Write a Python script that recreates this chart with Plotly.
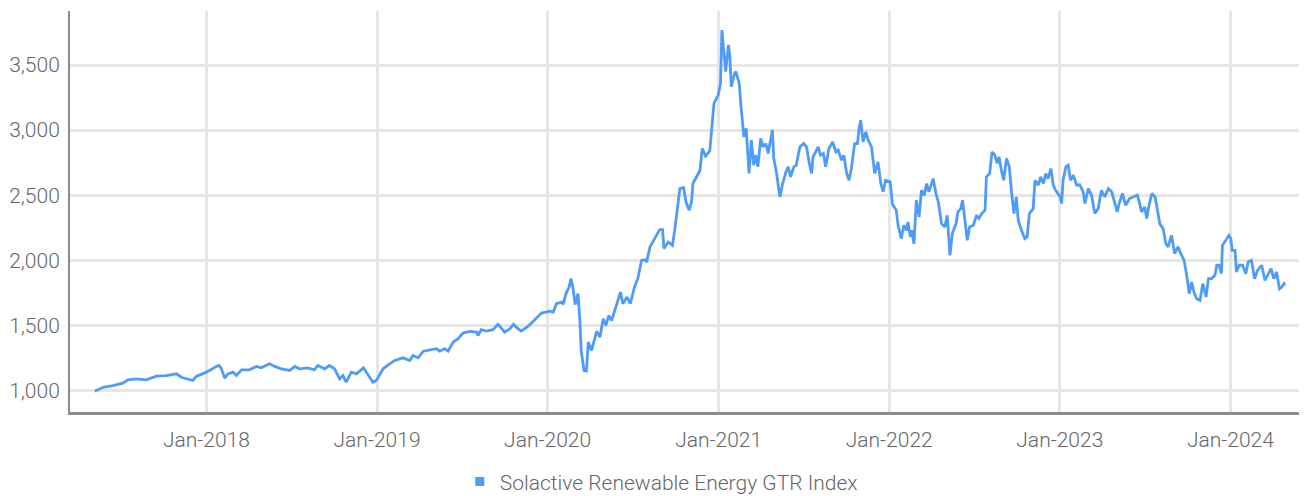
import plotly.graph_objects as go

series_name = "Solactive Renewable Energy GTR Index"

dates = [
    "2017-05-07", "2017-05-25", "2017-06-15", "2017-07-06", "2017-07-17", "2017-08-04", "2017-08-25",
    "2017-09-16", "2017-10-07", "2017-10-29", "2017-11-08", "2017-11-19", "2017-12-03", "2017-12-10",
    "2018-01-01", "2018-01-22", "2018-01-28", "2018-02-02", "2018-02-09", "2018-02-16", "2018-02-27",
    "2018-03-06", "2018-03-17", "2018-04-03", "2018-04-18", "2018-04-28", "2018-05-16", "2018-05-27",
    "2018-06-10", "2018-06-28", "2018-07-09", "2018-07-19", "2018-08-06", "2018-08-20", "2018-08-27",
    "2018-09-11", "2018-09-21", "2018-10-02", "2018-10-13", "2018-10-20", "2018-10-27", "2018-11-07",
    "2018-11-18", "2018-12-03", "2018-12-12", "2018-12-23", "2018-12-31",
    "2019-01-14", "2019-01-28", "2019-02-08", "2019-02-26", "2019-03-12", "2019-03-19", "2019-03-30",
    "2019-04-10", "2019-04-28", "2019-05-08", "2019-05-15", "2019-05-26", "2019-06-02", "2019-06-13",
    "2019-06-23", "2019-07-04", "2019-07-18", "2019-08-02", "2019-08-05", "2019-08-12", "2019-08-23",
    "2019-09-06", "2019-09-17", "2019-10-01", "2019-10-12", "2019-10-20", "2019-10-30", "2019-11-06",
    "2019-11-20", "2019-12-04", "2019-12-19",
    "2020-01-06", "2020-01-13", "2020-01-20", "2020-01-31", "2020-02-03", "2020-02-10", "2020-02-16",
    "2020-02-20", "2020-02-24", "2020-02-29", "2020-03-06", "2020-03-10", "2020-03-13", "2020-03-19",
    "2020-03-24", "2020-03-28", "2020-04-04", "2020-04-15", "2020-04-22", "2020-04-29", "2020-05-05",
    "2020-05-11", "2020-05-17", "2020-05-24", "2020-05-31", "2020-06-05", "2020-06-10", "2020-06-19",
    "2020-06-26", "2020-07-05", "2020-07-12", "2020-07-20", "2020-07-27", "2020-07-31", "2020-08-07",
    "2020-08-17", "2020-08-28", "2020-09-03", "2020-09-06", "2020-09-15", "2020-09-24", "2020-09-29",
    "2020-10-03", "2020-10-10", "2020-10-18", "2020-10-23", "2020-10-30", "2020-11-04", "2020-11-07",
    "2020-11-15", "2020-11-22", "2020-11-27", "2020-12-04", "2020-12-13", "2020-12-17", "2020-12-22",
    "2020-12-31",
    "2021-01-05", "2021-01-08", "2021-01-12", "2021-01-16", "2021-01-22", "2021-01-25", "2021-01-28",
    "2021-02-04", "2021-02-07", "2021-02-14", "2021-02-18", "2021-02-24", "2021-03-01", "2021-03-07",
    "2021-03-12", "2021-03-17", "2021-03-21", "2021-03-26", "2021-04-01", "2021-04-06", "2021-04-12",
    "2021-04-17", "2021-04-22", "2021-04-26", "2021-04-29", "2021-05-05", "2021-05-12", "2021-05-18",
    "2021-05-25", "2021-05-30", "2021-06-04", "2021-06-11", "2021-06-16", "2021-06-24", "2021-07-02",
    "2021-07-08", "2021-07-14", "2021-07-19", "2021-07-22", "2021-07-28", "2021-08-02", "2021-08-07",
    "2021-08-13", "2021-08-18", "2021-08-25", "2021-09-02", "2021-09-09", "2021-09-14", "2021-09-21",
    "2021-09-26", "2021-10-02", "2021-10-07", "2021-10-12", "2021-10-19", "2021-10-25", "2021-10-29",
    "2021-11-01", "2021-11-06", "2021-11-12", "2021-11-17", "2021-11-24", "2021-12-01", "2021-12-08",
    "2021-12-14", "2021-12-19", "2021-12-24",
    "2022-01-03", "2022-01-08", "2022-01-16", "2022-01-20", "2022-01-27", "2022-02-01", "2022-02-07",
    "2022-02-10", "2022-02-15", "2022-02-18", "2022-02-23", "2022-02-28", "2022-03-06", "2022-03-11",
    "2022-03-17", "2022-03-22", "2022-03-27", "2022-04-05", "2022-04-11", "2022-04-16", "2022-04-23",
    "2022-04-30", "2022-05-05", "2022-05-11", "2022-05-16", "2022-05-24", "2022-05-28", "2022-06-03",
    "2022-06-07", "2022-06-12", "2022-06-17", "2022-06-22", "2022-06-30", "2022-07-07", "2022-07-12",
    "2022-07-18", "2022-07-25", "2022-07-28", "2022-08-04", "2022-08-09", "2022-08-15", "2022-08-20",
    "2022-08-24", "2022-08-29", "2022-09-03", "2022-09-09", "2022-09-15", "2022-09-20", "2022-09-25",
    "2022-09-30", "2022-10-04", "2022-10-11", "2022-10-18", "2022-10-23", "2022-10-28", "2022-11-05",
    "2022-11-09", "2022-11-16", "2022-11-21", "2022-11-27", "2022-12-02", "2022-12-07", "2022-12-13",
    "2022-12-18", "2022-12-23",
    "2023-01-02", "2023-01-05", "2023-01-08", "2023-01-14", "2023-01-19", "2023-01-24", "2023-01-30",
    "2023-02-06", "2023-02-13", "2023-02-20", "2023-02-24", "2023-03-03", "2023-03-10", "2023-03-13",
    "2023-03-17", "2023-03-24", "2023-03-31", "2023-04-07", "2023-04-15", "2023-04-22", "2023-04-29",
    "2023-05-04", "2023-05-08", "2023-05-15", "2023-05-22", "2023-05-30", "2023-06-07", "2023-06-16",
    "2023-06-21", "2023-06-25", "2023-07-02", "2023-07-06", "2023-07-11", "2023-07-17", "2023-07-24",
    "2023-07-29", "2023-08-03", "2023-08-10", "2023-08-16", "2023-08-21", "2023-08-28", "2023-09-04",
    "2023-09-11", "2023-09-17", "2023-09-24", "2023-09-29", "2023-10-05", "2023-10-10", "2023-10-16",
    "2023-10-21", "2023-10-28", "2023-11-03", "2023-11-10", "2023-11-15", "2023-11-22", "2023-11-29",
    "2023-12-03", "2023-12-08", "2023-12-13", "2023-12-15", "2023-12-22", "2023-12-29",
    "2024-01-02", "2024-01-05", "2024-01-11", "2024-01-14", "2024-01-20", "2024-01-27", "2024-02-03",
    "2024-02-08", "2024-02-15", "2024-02-22", "2024-02-28", "2024-03-08", "2024-03-15", "2024-03-22",
    "2024-03-28", "2024-04-03", "2024-04-09", "2024-04-15", "2024-04-20", "2024-04-25", "2024-04-27",
]

values = [
    995, 1025, 1038, 1056, 1082, 1090, 1082,
    1110, 1115, 1128, 1102, 1090, 1077, 1108,
    1141, 1185, 1192, 1167, 1095, 1128, 1141,
    1115, 1159, 1159, 1185, 1174, 1205, 1185,
    1167, 1154, 1185, 1167, 1174, 1159, 1192,
    1167, 1192, 1167, 1090, 1115, 1064, 1141,
    1128, 1174, 1128, 1064, 1080,
    1167, 1205, 1231, 1251, 1231, 1269, 1251,
    1302, 1313, 1321, 1302, 1321, 1302, 1372,
    1397, 1441, 1454, 1449, 1423, 1467, 1456,
    1467, 1508, 1449, 1474, 1508, 1474, 1456,
    1492, 1538, 1595,
    1610, 1603, 1667, 1679, 1662, 1750, 1795,
    1859, 1795, 1660, 1744, 1540, 1300, 1154,
    1150, 1372, 1308, 1455, 1410, 1551, 1500,
    1577, 1538, 1615, 1692, 1756, 1667, 1718,
    1667, 1795, 1859, 2000, 2005, 1987, 2103,
    2167, 2236, 2236, 2090, 2141, 2115, 2231,
    2359, 2551, 2559, 2449, 2385, 2449, 2590,
    2641, 2690, 2859, 2800, 2840, 3000, 3205,
    3269,
    3359, 3769, 3615, 3449, 3654, 3564, 3333,
    3436, 3449, 3359, 3179, 2949, 3013, 2667,
    2923, 2731, 2808, 2718, 2936, 2872, 2897,
    2821, 2923, 3000, 2782, 2667, 2487, 2590,
    2679, 2718, 2641, 2718, 2731, 2872, 2897,
    2872, 2744, 2667, 2795, 2833, 2872, 2808,
    2821, 2718, 2859, 2910, 2833, 2846, 2769,
    2808, 2667, 2615, 2705, 2897, 2897, 3026,
    3077, 2910, 2987, 2923, 2872, 2667, 2756,
    2590, 2526, 2615,
    2603, 2430, 2385, 2269, 2167, 2269, 2231,
    2295, 2180, 2231, 2128, 2462, 2333, 2538,
    2500, 2590, 2526, 2628, 2513, 2449, 2282,
    2256, 2346, 2038, 2205, 2282, 2372, 2397,
    2462, 2308, 2154, 2256, 2269, 2346, 2321,
    2359, 2385, 2641, 2667, 2833, 2808, 2744,
    2795, 2692, 2615, 2782, 2718, 2513, 2359,
    2487, 2308, 2231, 2167, 2180, 2359, 2397,
    2615, 2577, 2641, 2590, 2667, 2628, 2705,
    2577, 2538,
    2487, 2436, 2615, 2718, 2731, 2615, 2654,
    2577, 2580, 2526, 2436, 2551, 2500, 2436,
    2359, 2397, 2538, 2487, 2551, 2526, 2423,
    2372, 2436, 2513, 2423, 2474, 2487, 2500,
    2436, 2372, 2410, 2321, 2423, 2513, 2487,
    2385, 2282, 2244, 2128, 2103, 2192, 2051,
    2103, 2051, 2000, 1897, 1744, 1833, 1744,
    1705, 1692, 1821, 1718, 1859, 1859, 1885,
    1962, 1962, 1897, 2115, 2154, 2192,
    2167, 2077, 2077, 1910, 1962, 1962, 1897,
    1987, 2000, 1859, 1923, 1962, 1846, 1897,
    1936, 1859, 1910, 1782, 1795, 1821, 1808,
]

y_ticks = [1000, 1500, 2000, 2500, 3000, 3500]

line_color = "#4f9cf8"
font_family = "Roboto, 'Open Sans', sans-serif"
text_color = "#666666"

fig = go.Figure()
fig.add_trace(go.Scatter(
    x=dates, y=values, mode="lines", name=series_name,
    line=dict(color=line_color, width=2.8), showlegend=False,
))
fig.add_trace(go.Scatter(
    x=[None], y=[None], mode="markers", name=series_name,
    marker=dict(symbol="square", size=9, color=line_color),
    showlegend=True,
))

fig.update_layout(
    width=1299, height=488,
    margin=dict(l=62, r=0, t=3, b=84, autoexpand=False),
    paper_bgcolor="white", plot_bgcolor="white",
    font=dict(family=font_family, size=21, color=text_color, weight=300),
    legend=dict(
        orientation="h", x=0.478, xanchor="center",
        yref="container", y=0.029, yanchor="middle",
        font=dict(size=21, color=text_color), itemwidth=30,
    ),
    xaxis=dict(
        type="date", range=["2017-03-15", "2024-06-13"],
        tick0="2018-01-01", dtick="M12", tickformat="%b-%Y",
        showgrid=True, gridcolor="#e6e6e6", gridwidth=2.5,
        showline=True, linecolor="#8c8c8c", linewidth=2.5,
        ticks="outside", ticklen=7, tickcolor="rgba(0,0,0,0)",
        zeroline=False, automargin=False,
    ),
    yaxis=dict(
        range=[835, 3915], tickvals=y_ticks, tickformat=",d",
        showgrid=True, gridcolor="#e6e6e6", gridwidth=2.5,
        showline=True, linecolor="#8c8c8c", linewidth=2,
        ticks="outside", ticklen=4, tickcolor="rgba(0,0,0,0)",
        zeroline=False, automargin=False,
    ),
)

fig.write_html("out.html")
